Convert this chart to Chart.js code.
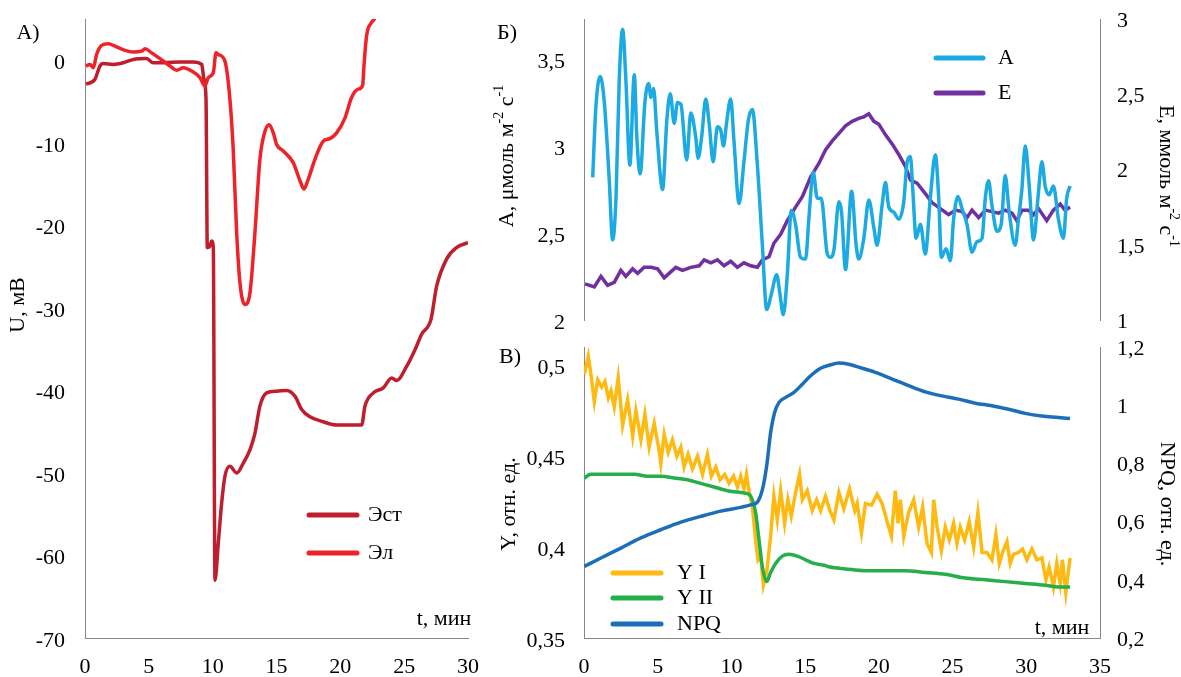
<!DOCTYPE html>
<html>
<head>
<meta charset="utf-8">
<script src="https://cdn.jsdelivr.net/npm/chart.js@4.4.1/dist/chart.umd.min.js"></script>
<style>
  body { margin: 0; background: #fff; }
  #wrap { position: relative; width: 1181px; height: 677px; }
  canvas { position: absolute; }
</style>
</head>
<body>
<div id="wrap">
  <canvas id="chartA" style="left:0;top:0" width="480" height="677"></canvas>
  <canvas id="chartB" style="left:480px;top:0" width="701" height="335"></canvas>
  <canvas id="chartV" style="left:480px;top:335px" width="701" height="342"></canvas>
</div>
<script>
// --- panel A: membrane potential, mV vs t, min
const tEst = [0.08,0.78,1.17,1.43,2.22,3.0,3.78,4.83,5.35,6.13,7.44,8.48,9.14,9.32,9.48,9.58,9.79,9.92,10.05,10.18,10.44,10.7,10.96,11.35,11.88,12.4,12.92,13.31,13.7,14.23,15.01,15.79,16.44,16.97,17.62,18.66,19.71,20.75,21.67,21.93,22.58,23.36,24.02,24.41,25.19,25.84,26.37,27.1,27.54,28.32,29.1,30.0];
const uEst = [-2.9,-2.3,-0.7,-0.4,-0.5,-0.3,0.1,0.2,-0.3,-0.3,-0.2,-0.2,-0.5,-2.3,-4.7,-22.7,-22.5,-21.9,-22.7,-63.0,-58.5,-53.7,-50.4,-49.2,-50.0,-48.8,-47.2,-45.2,-41.9,-40.3,-40.1,-40.0,-40.7,-42.3,-43.2,-43.8,-44.2,-44.2,-44.2,-41.9,-40.3,-39.7,-38.5,-38.8,-37.1,-35.1,-33.2,-31.4,-27.4,-24.1,-22.7,-22.1];
const tEl = [0.08,0.39,0.65,0.91,1.3,1.83,2.35,3.13,3.78,4.44,4.7,5.22,5.87,6.66,7.18,7.7,8.35,9.0,9.4,9.66,10.05,10.26,10.44,10.96,11.35,11.61,11.88,12.14,12.53,12.92,13.31,13.7,14.1,14.43,14.75,15.01,15.53,16.31,16.84,17.15,17.49,18.01,18.66,19.18,19.71,20.36,20.88,21.4,21.75,21.85,22.06,22.45,22.71,23.0];
const uEl = [-0.7,-0.5,-0.9,0.7,1.8,2.0,1.7,1.2,1.0,1.1,1.4,0.9,0.2,-0.7,-1.2,-0.9,-1.3,-2.1,-3.1,-2.1,-1.5,0.9,0.7,-0.1,-4.7,-10.8,-20.9,-27.0,-29.6,-28.2,-20.9,-12.0,-8.6,-7.8,-8.8,-10.2,-11.0,-12.4,-14.6,-15.6,-14.4,-12.0,-9.8,-9.5,-8.8,-7.0,-4.5,-3.5,-3.0,-0.7,3.0,4.6,5.2,8.0];

// --- panel B: assimilation A and transpiration E
const tA = [0.59,0.81,1.1,1.37,1.71,1.94,2.17,2.39,2.62,2.84,3.11,3.41,3.59,3.81,4.13,4.38,4.54,4.72,4.94,5.33,5.62,5.85,6.12,6.34,6.57,6.97,7.24,7.58,7.74,7.99,8.26,8.49,8.76,9.05,9.28,9.46,9.68,9.95,10.18,10.52,10.85,11.15,11.42,11.76,12.1,12.39,12.71,13.07,13.29,13.52,13.79,14.06,14.35,14.69,15.03,15.25,15.55,15.82,16.09,16.5,16.7,16.95,17.29,17.47,17.74,18.15,18.46,18.64,18.98,19.32,19.66,19.88,20.22,20.45,20.67,21.01,21.35,21.69,21.92,22.14,22.3,22.53,22.82,23.15,23.49,23.83,24.06,24.24,24.56,24.85,25.07,25.37,25.64,25.98,26.32,26.66,27.0,27.22,27.44,27.67,28.01,28.3,28.57,28.84,29.25,29.47,29.7,29.93,30.2,30.49,30.79,31.06,31.28,31.55,31.84,32.18,32.52,32.74,32.97];
const valA = [2.82,3.23,3.40,3.26,2.81,2.46,2.70,3.38,3.67,3.38,2.89,3.41,3.04,2.84,3.25,3.36,3.28,3.33,3.08,2.75,3.15,3.30,3.13,3.25,3.24,2.92,3.19,3.05,2.93,3.06,3.27,3.13,2.91,3.11,3.09,3.00,3.14,3.27,3.02,2.67,2.91,3.15,3.21,2.89,2.43,2.06,2.15,2.26,2.15,2.03,2.26,2.63,2.55,2.36,2.35,2.58,2.85,2.70,2.70,2.38,2.36,2.40,2.68,2.62,2.29,2.74,2.43,2.35,2.47,2.69,2.53,2.43,2.66,2.79,2.65,2.62,2.58,2.68,2.91,2.94,2.75,2.47,2.55,2.38,2.70,2.95,2.70,2.36,2.41,2.34,2.58,2.71,2.64,2.55,2.39,2.45,2.47,2.70,2.80,2.66,2.51,2.55,2.83,2.62,2.43,2.58,2.75,3.00,2.77,2.46,2.70,2.91,2.77,2.72,2.77,2.58,2.47,2.70,2.77];
const tE = [0.07,0.7,1.15,1.6,2.05,2.5,2.84,3.3,3.64,4.08,4.54,4.99,5.44,5.77,6.23,6.68,7.24,7.81,8.15,8.6,9.05,9.5,9.95,10.4,10.85,11.31,11.76,12.1,12.55,12.88,13.34,13.79,14.35,14.81,15.37,15.93,16.38,16.84,17.29,17.74,18.19,18.64,18.98,19.32,19.66,20.0,20.45,20.9,21.35,21.8,22.14,22.59,23.15,23.61,24.17,24.73,25.19,25.64,25.98,26.32,26.77,27.22,27.67,28.12,28.57,29.03,29.36,29.7,30.15,30.49,30.83,31.39,31.84,32.3,32.63,32.97];
const valE = [1.24,1.22,1.29,1.23,1.25,1.33,1.29,1.34,1.31,1.35,1.35,1.34,1.28,1.31,1.35,1.33,1.35,1.36,1.40,1.38,1.40,1.36,1.39,1.35,1.38,1.36,1.35,1.40,1.42,1.51,1.57,1.66,1.75,1.82,1.95,2.04,2.13,2.19,2.24,2.29,2.32,2.34,2.35,2.37,2.32,2.30,2.23,2.17,2.10,2.02,1.93,1.91,1.84,1.78,1.74,1.70,1.73,1.72,1.68,1.73,1.68,1.73,1.72,1.71,1.73,1.71,1.66,1.73,1.73,1.70,1.74,1.66,1.73,1.77,1.73,1.75];

// --- panel V: quantum yields Y I, Y II and NPQ
const tY1 = [0.02,0.29,0.47,0.7,0.93,1.2,1.42,1.65,1.83,2.05,2.32,2.62,2.96,3.3,3.52,3.86,4.13,4.42,4.76,5.1,5.21,5.44,5.71,6.0,6.3,6.57,6.79,7.06,7.36,7.7,8.04,8.37,8.64,8.94,9.23,9.55,9.84,10.14,10.41,10.63,10.85,11.02,11.19,11.42,11.64,11.8,11.98,12.17,12.39,12.66,12.88,13.11,13.34,13.61,13.83,14.06,14.35,14.62,14.81,15.14,15.48,15.78,16.05,16.38,16.68,16.95,17.29,17.62,18.01,18.37,18.53,18.82,19.09,19.5,19.88,20.22,20.56,20.85,21.12,21.3,21.46,21.69,22.02,22.36,22.7,22.97,23.27,23.56,23.72,23.95,24.24,24.51,24.78,25.07,25.3,25.52,25.82,26.13,26.43,26.72,27.0,27.33,27.67,27.94,28.17,28.39,28.69,28.91,29.13,29.47,29.74,30.04,30.38,30.72,31.06,31.33,31.55,31.84,32.07,32.3,32.45,32.68,32.97];
const valY1 = [0.495,0.505,0.495,0.480,0.492,0.488,0.491,0.482,0.486,0.477,0.493,0.467,0.481,0.461,0.475,0.459,0.473,0.455,0.468,0.453,0.446,0.462,0.452,0.459,0.450,0.455,0.444,0.451,0.443,0.450,0.440,0.451,0.439,0.444,0.437,0.440,0.435,0.439,0.433,0.439,0.432,0.440,0.431,0.422,0.404,0.393,0.395,0.379,0.386,0.406,0.428,0.415,0.431,0.413,0.426,0.417,0.430,0.440,0.426,0.431,0.420,0.426,0.420,0.428,0.420,0.415,0.430,0.421,0.432,0.420,0.424,0.408,0.424,0.423,0.429,0.424,0.414,0.406,0.431,0.413,0.426,0.406,0.419,0.426,0.411,0.422,0.402,0.397,0.426,0.411,0.398,0.411,0.404,0.413,0.402,0.411,0.404,0.414,0.400,0.419,0.397,0.397,0.393,0.407,0.391,0.397,0.403,0.391,0.396,0.397,0.399,0.393,0.399,0.393,0.394,0.382,0.389,0.378,0.391,0.380,0.393,0.375,0.394];
const tY2 = [0.02,0.47,1.15,1.83,2.62,3.41,4.31,5.21,6.12,7.02,7.92,8.82,9.73,10.63,11.19,11.42,11.64,11.87,12.1,12.39,12.66,13.0,13.45,13.9,14.47,15.03,15.59,16.27,16.68,17.74,19.09,20.45,21.8,23.15,24.51,25.86,27.22,28.57,29.93,31.28,32.18,32.97];
const valY2 = [0.438,0.440,0.440,0.440,0.440,0.440,0.439,0.439,0.438,0.437,0.435,0.433,0.431,0.430,0.429,0.426,0.419,0.404,0.389,0.381,0.386,0.391,0.395,0.396,0.395,0.393,0.391,0.390,0.389,0.388,0.387,0.387,0.387,0.386,0.385,0.383,0.382,0.381,0.380,0.379,0.378,0.378];
const tNPQ = [0.02,1.15,2.5,3.86,5.21,6.57,7.92,9.28,10.63,11.42,11.76,12.1,12.39,12.66,12.93,13.22,13.68,14.24,14.81,15.37,16.05,16.68,17.29,17.96,18.87,19.77,20.9,22.02,23.15,24.28,25.41,26.54,27.67,28.8,29.93,31.06,32.18,32.97];
const valNPQ = [0.446,0.475,0.509,0.544,0.572,0.598,0.618,0.636,0.649,0.659,0.667,0.710,0.791,0.906,0.975,1.009,1.027,1.044,1.072,1.101,1.127,1.138,1.145,1.141,1.127,1.113,1.090,1.067,1.046,1.032,1.021,1.007,0.998,0.986,0.972,0.963,0.958,0.954];

const FAMILY = "'Liberation Serif', 'Times New Roman', serif";
const MAIN = '22px ' + FAMILY;
const SUP = '14px ' + FAMILY;
Chart.defaults.font.family = FAMILY;
Chart.defaults.font.size = 22;
Chart.defaults.color = '#000';

const pts = (xs, ys) => xs.map((x, i) => ({ x: x, y: ys[i] }));
const comma = v => String(Math.round(v * 100) / 100).replace('.', ',');
const onStep = step => s => {
  s.ticks = s.ticks.filter(t => Math.abs(t.value / step - Math.round(t.value / step)) < 1e-6);
};
// fixed axis size, no extra side padding for edge labels
const fixW = w => s => { s.width = w; s.paddingTop = s.paddingBottom = s.paddingLeft = s.paddingRight = 0; };
const fixH = h => s => { s.height = h; s.paddingTop = s.paddingBottom = s.paddingLeft = s.paddingRight = 0; };

// axis lines only, no grid
function axis(opts, tickOpts) {
  return Object.assign({
    type: 'linear',
    grid: { display: false, drawTicks: false },
    border: { display: true, color: '#888', width: 1 },
    ticks: Object.assign({ includeBounds: false, font: { size: 22, lineHeight: 1 }, color: '#000', callback: comma }, tickOpts)
  }, opts);
}

// extra texts and hand placed legend
const decoPlugin = {
  id: 'deco',
  afterDraw(chart, args, opts) {
    const ctx = chart.ctx;
    ctx.save();
    ctx.fillStyle = '#000';
    ctx.textBaseline = 'middle';
    ctx.textAlign = 'left';
    (opts.texts || []).forEach(t => {
      const parts = t.parts || [[t.text, 0]];
      let w = 0;
      parts.forEach(p => { ctx.font = p[1] ? SUP : MAIN; w += ctx.measureText(p[0]).width; });
      ctx.save();
      ctx.translate(t.x, t.y);
      ctx.rotate((t.rot || 0) * Math.PI / 180);
      let x = -w / 2;
      parts.forEach(p => {
        ctx.font = p[1] ? SUP : MAIN;
        ctx.fillText(p[0], x, p[1] ? -8 : 0);
        x += ctx.measureText(p[0]).width;
      });
      ctx.restore();
    });
    const lg = opts.legend;
    if (lg) {
      chart.data.datasets.forEach((ds, i) => {
        const y = lg.ys[i];
        ctx.strokeStyle = ds.borderColor;
        ctx.lineWidth = 5;
        ctx.lineCap = 'round';
        ctx.beginPath();
        ctx.moveTo(lg.x1, y);
        ctx.lineTo(lg.x2, y);
        ctx.stroke();
        ctx.font = MAIN;
        ctx.fillText(ds.label, lg.xt, y);
      });
    }
    ctx.restore();
  }
};

const base = {
  responsive: false,
  animation: false,
  elements: { point: { radius: 0 } },
  plugins: { legend: { display: false }, tooltip: { enabled: false } }
};

// panel A
new Chart(document.getElementById('chartA'), {
  type: 'line',
  data: {
    datasets: [
      { label: 'Эст', data: pts(tEst, uEst), borderColor: '#BE1E2D', borderWidth: 3.5, cubicInterpolationMode: 'monotone', order: 1 },
      { label: 'Эл', data: pts(tEl, uEl), borderColor: '#EE2229', borderWidth: 3.5, cubicInterpolationMode: 'monotone', order: 0 }
    ]
  },
  options: Object.assign({}, base, {
    layout: { padding: { left: 0, top: 19, right: 12, bottom: 0 } },
    scales: {
      x: axis({ min: 0, max: 30, afterFit: fixH(39) }, { stepSize: 5, padding: 18 }),
      y: axis({ min: -70, max: 5, afterBuildTicks: onStep(10), afterFit: fixW(85) }, { stepSize: 10, padding: 20, labelOffset: 3 })
    },
    plugins: Object.assign({}, base.plugins, {
      deco: {
        texts: [
          { text: 'A)', x: 28, y: 33 },
          { text: 'U, мВ', x: 18, y: 305, rot: -90 },
          { text: 't, мин', x: 444, y: 619 }
        ],
        legend: { x1: 309, x2: 357, xt: 368, ys: [515, 553] }
      }
    })
  }),
  plugins: [decoPlugin]
});

// panel B
new Chart(document.getElementById('chartB'), {
  type: 'line',
  data: {
    datasets: [
      { label: 'A', data: pts(tA, valA), borderColor: '#1BAAE1', borderWidth: 3.5, yAxisID: 'y', cubicInterpolationMode: 'monotone', order: 0 },
      { label: 'E', data: pts(tE, valE), borderColor: '#7030A0', borderWidth: 3.5, yAxisID: 'y1', order: 1 }
    ]
  },
  options: Object.assign({}, base, {
    layout: { padding: { left: 0, top: 19, right: 0, bottom: 15 } },
    scales: {
      x: { type: 'linear', min: 0, max: 35, display: false },
      y: axis({ position: 'left', min: 2, max: 3.73, afterBuildTicks: onStep(0.5), afterFit: fixW(104) }, { stepSize: 0.5, padding: 19, labelOffset: 3 }),
      y1: axis({ position: 'right', min: 1, max: 3, afterBuildTicks: onStep(0.5), afterFit: fixW(81) }, { stepSize: 0.5, padding: 17, labelOffset: 2 })
    },
    plugins: Object.assign({}, base.plugins, {
      deco: {
        texts: [
          { text: 'Б)', x: 27, y: 33 },
          { parts: [['A, μмоль м', 0], ['-2', 1], [' с', 0], ['-1', 1]], x: 27, y: 156, rot: -90 },
          { parts: [['E, ммоль м', 0], ['-2', 1], [' с', 0], ['-1', 1]], x: 686, y: 176, rot: 90 }
        ],
        legend: { x1: 456, x2: 503, xt: 518, ys: [58, 93] }
      }
    })
  }),
  plugins: [decoPlugin]
});

// panel V
new Chart(document.getElementById('chartV'), {
  type: 'line',
  data: {
    datasets: [
      { label: 'Y I', data: pts(tY1, valY1), borderColor: '#FFBA12', borderWidth: 3.5, yAxisID: 'y', order: 2 },
      { label: 'Y II', data: pts(tY2, valY2), borderColor: '#24AF4B', borderWidth: 3.5, yAxisID: 'y', cubicInterpolationMode: 'monotone', order: 1 },
      { label: 'NPQ', data: pts(tNPQ, valNPQ), borderColor: '#1C6EB8', borderWidth: 3.5, yAxisID: 'y1', cubicInterpolationMode: 'monotone', order: 0 }
    ]
  },
  options: Object.assign({}, base, {
    layout: { padding: { left: 0, top: 12, right: 0, bottom: 0 } },
    scales: {
      x: axis({ min: 0, max: 35, afterFit: fixH(39) }, { stepSize: 5, padding: 18 }),
      y: axis({ position: 'left', min: 0.35, max: 0.51, afterBuildTicks: onStep(0.05), afterFit: fixW(104) }, { stepSize: 0.05, padding: 19, labelOffset: 3 }),
      y1: axis({ position: 'right', min: 0.2, max: 1.2, afterBuildTicks: onStep(0.2), afterFit: fixW(81) }, { stepSize: 0.2, padding: 17, labelOffset: 2 })
    },
    plugins: Object.assign({}, base.plugins, {
      deco: {
        texts: [
          { text: 'В)', x: 30, y: 22 },
          { text: 'Y, отн. ед.', x: 29, y: 169, rot: -90 },
          { text: 'NPQ, отн. ед.', x: 687, y: 169, rot: 90 },
          { text: 't, мин', x: 582, y: 293 }
        ],
        legend: { x1: 133, x2: 181, xt: 197, ys: [238, 263, 289] }
      }
    })
  }),
  plugins: [decoPlugin]
});
</script>
</body>
</html>
